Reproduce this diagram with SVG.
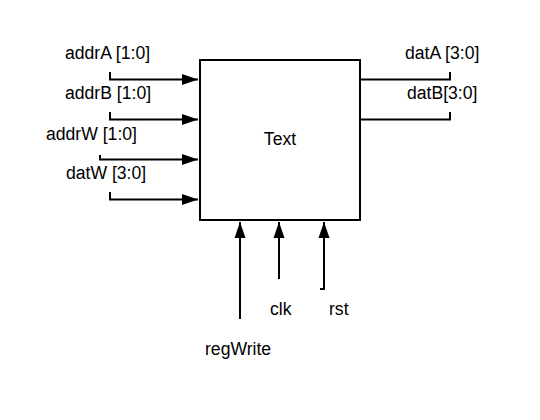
<svg xmlns="http://www.w3.org/2000/svg" width="540" height="420" viewBox="0 0 540 420">
<style>
.w{fill:none;stroke:#000;stroke-width:2}
.t{font-family:"Liberation Sans",Arial,sans-serif;font-size:17.6px;fill:#000}
</style>
<defs>
<marker id="ah" markerWidth="16" markerHeight="12" refX="16" refY="6" orient="auto" markerUnits="userSpaceOnUse">
<path d="M0,0.5 L16,6 L0,11.5 Z" fill="#000"/>
</marker>
</defs>
<rect width="540" height="420" fill="#fff"/>
<g id="block">
<rect x="200" y="60" width="160" height="160" fill="#fff" stroke="#000" stroke-width="2"/>
<text class="t" x="280" y="145" text-anchor="middle">Text</text>
</g>
<g id="connectors">
<path class="w" d="M110,72 V79.5 H198" marker-end="url(#ah)"/>
<path class="w" d="M110,112 V119.5 H198" marker-end="url(#ah)"/>
<path class="w" d="M100,155 V159.5 H198" marker-end="url(#ah)"/>
<path class="w" d="M110,192 V199.5 H198" marker-end="url(#ah)"/>
<path class="w" d="M360,79.5 H450 V72"/>
<path class="w" d="M360,119.5 H450 V112"/>
<path class="w" d="M240,319 V222" marker-end="url(#ah)"/>
<path class="w" d="M279,279 V222" marker-end="url(#ah)"/>
<path class="w" d="M320,289 H324 V222" marker-end="url(#ah)"/>
</g>
<g id="labels">
<text class="t" x="65" y="59">addrA [1:0]</text>
<text class="t" x="65" y="99">addrB [1:0]</text>
<text class="t" x="46" y="140">addrW [1:0]</text>
<text class="t" x="66" y="179">datW [3:0]</text>
<text class="t" x="405" y="59">datA [3:0]</text>
<text class="t" x="407" y="99">datB[3:0]</text>
<text class="t" x="270" y="315">clk</text>
<text class="t" x="329" y="315">rst</text>
<text class="t" x="205" y="355">regWrite</text>
</g>
</svg>
